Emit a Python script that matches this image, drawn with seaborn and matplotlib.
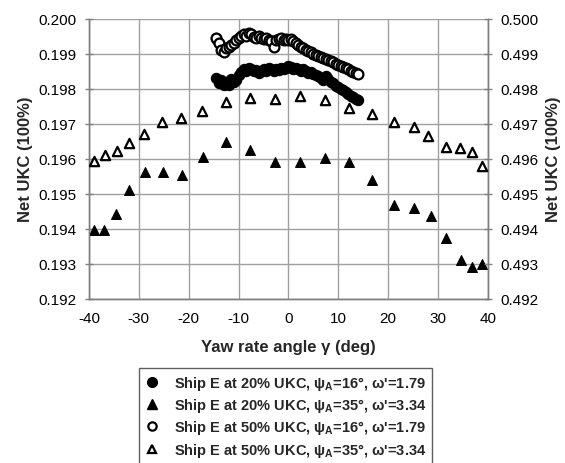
import numpy as np
import pandas as pd
import matplotlib
matplotlib.use("Agg")
import matplotlib.pyplot as plt
import seaborn as sns

# ---- data ----
tri_x = [-39.0, -37.0, -34.6, -31.9, -28.8, -25.2, -21.4, -17.2, -12.6, -7.8, -2.7,
         2.3, 7.3, 12.2, 16.8, 21.2, 25.1, 28.5, 31.6, 34.5, 36.8, 38.8]
tri20_y = [0.19395, 0.19395, 0.19442, 0.19511, 0.19561, 0.19561, 0.19554, 0.19605,
           0.19647, 0.19625, 0.19590, 0.19590, 0.19601, 0.19590, 0.19539, 0.19468,
           0.19459, 0.19436, 0.19373, 0.19310, 0.19291, 0.19298]
tri_x50 = [-39.0, -36.8, -34.4, -31.9, -28.9, -25.4, -21.6, -17.4, -12.6, -7.8, -2.7,
           2.3, 7.3, 12.2, 16.8, 21.1, 25.1, 28.0, 31.6, 34.4, 36.8, 38.8]
tri50_y = [0.49593, 0.49611, 0.49623, 0.49644, 0.49671, 0.49704, 0.49716, 0.49737,
           0.49763, 0.49773, 0.49771, 0.49778, 0.49768, 0.49746, 0.49728, 0.49706,
           0.49691, 0.49666, 0.49633, 0.49631, 0.49618, 0.49578]

circ_x = [-14.5, -14.0, -13.5, -13.0, -12.5, -12.0, -11.5, -11.0, -10.5, -10.0,
          -9.5, -9.0, -8.5, -8.0, -7.5, -7.0, -6.5, -6.0, -5.5, -5.0,
          -4.5, -4.0, -3.5, -3.0, -2.5, -2.0, -1.5, -1.0, -0.5, 0.0,
          0.5, 1.0, 1.5, 2.0, 2.5, 3.0, 3.5, 4.0, 4.5, 5.0,
          5.5, 6.0, 6.5, 7.0, 7.5, 8.0, 8.5, 9.0, 9.5, 10.0,
          10.5, 11.0, 11.5, 12.0, 12.5, 13.0, 13.5, 14.0]
circ20_y = [0.19830, 0.19815, 0.19825, 0.19810, 0.19820, 0.19812, 0.19828, 0.19818, 0.19825, 0.19838,
            0.19848, 0.19856, 0.19852, 0.19858, 0.19855, 0.19850, 0.19853, 0.19845, 0.19850, 0.19856,
            0.19852, 0.19858, 0.19855, 0.19850, 0.19856, 0.19853, 0.19858, 0.19855, 0.19860, 0.19865,
            0.19862, 0.19857, 0.19860, 0.19855, 0.19852, 0.19855, 0.19850, 0.19846, 0.19848, 0.19842,
            0.19838, 0.19835, 0.19830, 0.19826, 0.19835, 0.19828, 0.19820, 0.19815, 0.19808, 0.19805,
            0.19800, 0.19795, 0.19790, 0.19785, 0.19780, 0.19776, 0.19772, 0.19768]
circ20_extra_x = [-14.6, -14.3]
circ20_extra_y = [0.19946, 0.19940]
circ50_y = [0.49945, 0.49930, 0.49910, 0.49905, 0.49915, 0.49920, 0.49925, 0.49932, 0.49938, 0.49945,
            0.49950, 0.49955, 0.49952, 0.49958, 0.49955, 0.49948, 0.49945, 0.49950, 0.49946, 0.49942,
            0.49945, 0.49940, 0.49935, 0.49918, 0.49938, 0.49942, 0.49944, 0.49940, 0.49943, 0.49938,
            0.49942, 0.49935, 0.49930, 0.49926, 0.49920, 0.49915, 0.49912, 0.49908, 0.49905, 0.49900,
            0.49896, 0.49893, 0.49890, 0.49887, 0.49885, 0.49882, 0.49878, 0.49876, 0.49872, 0.49868,
            0.49865, 0.49862, 0.49858, 0.49855, 0.49852, 0.49849, 0.49846, 0.49842]

labels = ["Ship E at 20% UKC, ψ$_{\\mathbf{A}}$=16°, ω'=1.79",
          "Ship E at 20% UKC, ψ$_{\\mathbf{A}}$=35°, ω'=3.34",
          "Ship E at 50% UKC, ψ$_{\\mathbf{A}}$=16°, ω'=1.79",
          "Ship E at 50% UKC, ψ$_{\\mathbf{A}}$=35°, ω'=3.34"]
xticks = [-40, -30, -20, -10, 0, 10, 20, 30, 40]
yticks_left = [0.192, 0.193, 0.194, 0.195, 0.196, 0.197, 0.198, 0.199, 0.200]
yticks_right = [0.492, 0.493, 0.494, 0.495, 0.496, 0.497, 0.498, 0.499, 0.500]

# ---- style ----
sns.set_theme(style="white")
plt.rcParams['font.family'] = ['Liberation Sans', 'DejaVu Sans']
plt.rcParams['mathtext.fontset'] = 'custom'
plt.rcParams['mathtext.rm'] = 'Liberation Sans:bold'
plt.rcParams['mathtext.bf'] = 'Liberation Sans:bold'

fig = plt.figure(figsize=(5.65, 4.64), dpi=100)
ax = fig.add_axes([0.1575, 0.354, 0.7062, 0.6035])
ax2 = ax.twinx()

df20c = pd.DataFrame({"x": circ20_extra_x + circ_x, "y": circ20_extra_y + circ20_y})
df20t = pd.DataFrame({"x": tri_x, "y": tri20_y})
df50c = pd.DataFrame({"x": circ_x, "y": circ50_y})
df50t = pd.DataFrame({"x": tri_x50, "y": tri50_y})

sns.scatterplot(data=df20c, x="x", y="y", ax=ax, marker="o", s=55, color="black",
                edgecolor="black", linewidth=0.8, zorder=3)
sns.scatterplot(data=df20t, x="x", y="y", ax=ax, marker="^", s=50, color="black",
                edgecolor="black", linewidth=0.8, zorder=3)
sns.scatterplot(data=df50c, x="x", y="y", ax=ax2, marker="o", s=50, facecolor="white",
                edgecolor="black", linewidth=1.6, zorder=3)
sns.scatterplot(data=df50t, x="x", y="y", ax=ax2, marker="^", s=45, facecolor="white",
                edgecolor="black", linewidth=1.6, zorder=3)

ax.set_xlim(-40, 40)
ax.set_ylim(0.192, 0.200)
ax2.set_ylim(0.492, 0.500)
ax.set_xticks(xticks)
ax.set_yticks(yticks_left)
ax2.set_yticks(yticks_right)
ax.set_xticklabels([str(t) for t in xticks], fontsize=11)
ax.set_yticklabels([f"{t:.3f}" for t in yticks_left], fontsize=11)
ax2.set_yticklabels([f"{t:.3f}" for t in yticks_right], fontsize=11)

ax.grid(True, color="#a0a0a0", linewidth=1.0)
ax.set_axisbelow(True)
for a in (ax, ax2):
    for sp in a.spines.values():
        sp.set_color("#808080")
        sp.set_linewidth(1.0)
    a.tick_params(axis="both", direction="inout", length=6, width=1.0, color="#808080",
                  labelcolor="black", pad=6)
ax.spines["top"].set_visible(False)
ax2.spines["top"].set_visible(False)
ax.tick_params(axis="x", pad=6)

ax.set_xlabel("Yaw rate angle γ (deg)", fontsize=12, fontweight="bold", labelpad=10)
ax.set_ylabel("Net UKC (100%)", fontsize=12, fontweight="bold", labelpad=4)
ax2.set_ylabel("Net UKC (100%)", fontsize=12, fontweight="bold", labelpad=5)

h1 = plt.Line2D([], [], marker="o", ls="", color="black", markersize=7)
h2 = plt.Line2D([], [], marker="^", ls="", color="black", markersize=7)
h3 = plt.Line2D([], [], marker="o", ls="", markerfacecolor="white", markeredgecolor="black",
                markeredgewidth=1.6, markersize=6)
h4 = plt.Line2D([], [], marker="^", ls="", markerfacecolor="white", markeredgecolor="black",
                markeredgewidth=1.6, markersize=6)
leg = fig.legend([h1, h2, h3, h4], labels, loc="upper left", bbox_to_anchor=(0.246, 0.205),
                 frameon=True, fancybox=False, edgecolor="#606060", framealpha=1,
                 prop={"weight": "bold", "size": 10.5}, handletextpad=1.0, labelspacing=0.3,
                 borderpad=0.4, handlelength=1.0, borderaxespad=0)
leg.get_frame().set_linewidth(1.0)

fig.savefig("out.png", dpi=100)
